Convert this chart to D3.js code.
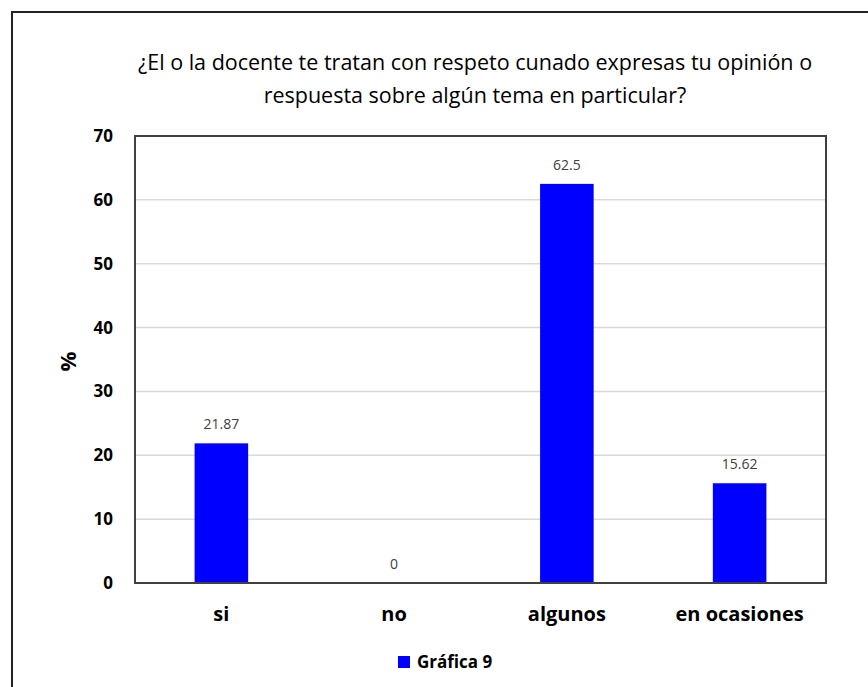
<!DOCTYPE html>
<html>
<head>
<meta charset="utf-8">
<script src="https://cdn.jsdelivr.net/npm/d3@7"></script>
<style>
  body { margin: 0; background: #fff; }
  text { font-family: "Open Sans", "Noto Sans", sans-serif; }
</style>
</head>
<body>
<script>
const width = 868;
const height = 687;

const categories = ["si", "no", "algunos", "en ocasiones"];
const values = [21.87, 0, 62.5, 15.62];
const valueLabels = ["21.87", "0", "62.5", "15.62"];
const yTicks = [0, 10, 20, 30, 40, 50, 60, 70];
const titleLines = [
  "¿El o la docente te tratan con respeto cunado expresas tu opinión o",
  "respuesta sobre algún tema en particular?"
];
const seriesName = "Gráfica 9";

const margin = { left: 135, right: 42, top: 136, bottom: 104 };

const svg = d3.select("body")
  .append("svg")
  .attr("width", width)
  .attr("height", height);

// outer frame (right and bottom edges are cut off in the picture)
svg.append("path")
  .attr("d", `M12,${height} L12,12 L${width},12`)
  .attr("fill", "none")
  .attr("stroke", "#222")
  .attr("stroke-width", 2);

const x = d3.scaleBand()
  .domain(categories)
  .range([margin.left, width - margin.right])
  .padding(0);

const y = d3.scaleLinear()
  .domain([0, 70])
  .range([height - margin.bottom, margin.top]);

// gridlines
svg.append("g")
  .selectAll("line")
  .data(yTicks.slice(1))
  .join("line")
  .attr("x1", margin.left)
  .attr("x2", width - margin.right)
  .attr("y1", d => y(d))
  .attr("y2", d => y(d))
  .attr("stroke", "#d9d9d9")
  .attr("stroke-width", 1.5);

// bars
const barW = x.bandwidth() * 0.31;
svg.append("g")
  .selectAll("rect")
  .data(values)
  .join("rect")
  .attr("x", (d, i) => x(categories[i]) + x.bandwidth() / 2 - barW / 2)
  .attr("y", d => y(d))
  .attr("width", barW)
  .attr("height", d => y(0) - y(d))
  .attr("fill", "#0000ff");

// value labels
svg.append("g")
  .selectAll("text")
  .data(values)
  .join("text")
  .attr("x", (d, i) => x(categories[i]) + x.bandwidth() / 2)
  .attr("y", d => y(d) - 14)
  .attr("text-anchor", "middle")
  .attr("font-size", 14)
  .attr("fill", "#404040")
  .text((d, i) => valueLabels[i]);

// plot frame
svg.append("rect")
  .attr("x", margin.left)
  .attr("y", margin.top)
  .attr("width", width - margin.left - margin.right)
  .attr("height", height - margin.top - margin.bottom)
  .attr("fill", "none")
  .attr("stroke", "#404040")
  .attr("stroke-width", 2);

// y axis
const yAxis = svg.append("g")
  .attr("transform", `translate(${margin.left},0)`)
  .call(d3.axisLeft(y).tickValues(yTicks).tickSize(0).tickPadding(22));
yAxis.select(".domain").remove();
yAxis.selectAll("text")
  .attr("font-family", "'Open Sans', sans-serif")
  .attr("font-size", 17)
  .attr("font-weight", "bold")
  .attr("fill", "#000");

// x axis
const xAxis = svg.append("g")
  .attr("transform", `translate(0,${y(0)})`)
  .call(d3.axisBottom(x).tickSize(0).tickPadding(24));
xAxis.select(".domain").remove();
xAxis.selectAll("text")
  .attr("font-family", "'Open Sans', sans-serif")
  .attr("font-size", 20)
  .attr("font-weight", "bold")
  .attr("fill", "#000");

// y axis title
svg.append("text")
  .attr("transform", `translate(76,${(margin.top + y(0)) / 2 + 2}) rotate(-90)`)
  .attr("text-anchor", "middle")
  .attr("font-size", 22)
  .attr("font-weight", "bold")
  .attr("fill", "#000")
  .text("%");

// title
svg.append("g")
  .selectAll("text")
  .data(titleLines)
  .join("text")
  .attr("x", 475)
  .attr("y", (d, i) => 70 + i * 33)
  .attr("text-anchor", "middle")
  .attr("font-size", 21.5)
  .attr("fill", "#000")
  .text(d => d);

// legend
const legend = svg.append("g").attr("transform", "translate(398,656)");
legend.append("rect")
  .attr("width", 12)
  .attr("height", 12)
  .attr("fill", "#0000ff");
legend.append("text")
  .attr("x", 19)
  .attr("y", 12)
  .attr("font-size", 17)
  .attr("font-weight", "bold")
  .attr("fill", "#000")
  .text(seriesName);
</script>
</body>
</html>
